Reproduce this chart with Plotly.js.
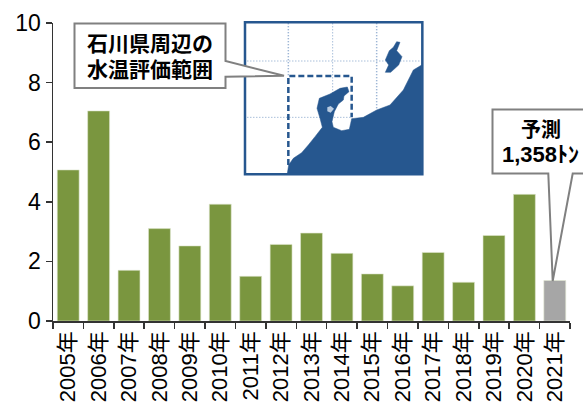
<!DOCTYPE html>
<html><head><meta charset="utf-8">
<script src="https://cdn.plot.ly/plotly-3.0.1.min.js"></script>
<style>html,body{margin:0;padding:0;background:#fff}</style></head>
<body><div id="chart" style="width:583px;height:405px"></div>
<script>
const years = ["2005年","2006年","2007年","2008年","2009年","2010年","2011年","2012年","2013年","2014年","2015年","2016年","2017年","2018年","2019年","2020年","2021年"];
const catch1000t = [5.07,7.05,1.7,3.1,2.52,3.92,1.5,2.57,2.95,2.27,1.58,1.18,2.3,1.3,2.87,4.25,1.358];
const barColors = years.map((y,i)=> i===years.length-1 ? "#a6a6a6" : "#7a963f");

const ML=53, MR=13, MT=23, MB=84, W=583, H=405;
const px = x => (x-ML)/(W-ML-MR);
const py = y => 1-(y-MT)/(H-MT-MB);
const zx = x => 240+x/3, zy = y => 10+y/3;          // zoomed map sketch -> page
const path = (pts,close) => pts.map((p,i)=>(i?"L":"M")+px(p[0]).toFixed(5)+" "+py(p[1]).toFixed(5)).join(" ")+(close?" Z":"");
const zpath = (pts,close) => path(pts.map(p=>[zx(p[0]),zy(p[1])]),close);
const shp = (d,o) => Object.assign({type:"path",xref:"paper",yref:"paper",path:d,layer:"above"},o);

const MAPBLUE="#26578f", GRID="#7f9fc8", CALL="#808080";
const land=[[142,490],[146,465],[160,445],[185,428],[205,405],[225,380],[247,352],[240,325],[231,295],[238,265],[270,252],[300,235],[322,231],[327,245],[312,258],[310,270],[295,282],[283,305],[276,335],[280,352],[305,362],[328,358],[332,340],[335,326],[370,322],[410,300],[450,285],[490,240],[510,200],[520,180],[545,165],[545,490]];
const sado=[[470,95],[480,97],[470,122],[486,140],[476,165],[452,187],[436,187],[446,165],[436,150],[448,122],[460,112]];
const shapes=[
 shp(zpath([[15,37],[547,37],[547,493],[15,493]],true),{fillcolor:"#fff",line:{width:0}}),
 shp(zpath([[22,153],[540,153]]),{line:{color:GRID,width:1,dash:"1px,2px"}}),
 shp(zpath([[22,322],[335,322]]),{line:{color:GRID,width:1,dash:"1px,2px"}}),
 shp(zpath([[145,40],[145,198]]),{line:{color:GRID,width:1.5,dash:"1px,2px"}}),
 shp(zpath([[278,40],[278,250]]),{line:{color:GRID,width:1,dash:"1px,2px"}}),
 shp(zpath([[410,40],[410,295]]),{line:{color:GRID,width:1.5,dash:"1px,2px"}}),
 shp(zpath(land,true),{fillcolor:MAPBLUE,line:{color:MAPBLUE,width:0.5}}),
 shp(zpath(sado,true),{fillcolor:MAPBLUE,line:{color:MAPBLUE,width:0.5}}),
 shp(zpath([[262,292],[272,288],[282,296],[272,308],[262,304]],true),{fillcolor:"#b9cbe0",line:{width:0}}),
 shp(zpath([[145,465],[145,198],[335,198],[335,322]]),{line:{color:MAPBLUE,width:2.5,dash:"6px,3px"}}),
 shp(zpath([[15,37],[547,37],[547,493],[15,493]],true),{line:{color:MAPBLUE,width:2.5}}),
 shp(path([[74.5,23.5],[225.5,23.5],[225.5,61],[284,75.7],[225.5,76.7],[225.5,88],[74.5,88]],true),{fillcolor:"#fff",line:{color:CALL,width:2}}),
 shp(path([[492.5,109.5],[590,109.5],[590,173.5],[572.7,173.5],[552.7,281],[548.3,173.5],[492.5,173.5]],true),{fillcolor:"#fff",line:{color:CALL,width:2}})
];
const FONT='"Liberation Sans","Noto Sans CJK JP",sans-serif';
const note=(x,y,t,sz)=>({xref:"paper",yref:"paper",x:px(x),y:py(y),text:t,showarrow:false,xanchor:"center",yanchor:"middle",font:{family:FONT,size:sz,color:"#000"}});
const annotations=[
 note(150,44,"<b>石川県周辺の</b>",21),
 note(150,69,"<b>水温評価範囲</b>",21),
 note(541,130,"<b>予測</b>",20),
 note(540,154,"<b>1,358ﾄﾝ</b>",22)
];
Plotly.newPlot("chart",[{type:"bar",x:years,y:catch1000t,marker:{color:barColors,line:{color:"#dfe5cf",width:0.6}},width:0.72}],{
 width:W,height:H,margin:{l:ML,r:MR,t:MT,b:MB,pad:0},paper_bgcolor:"#fff",plot_bgcolor:"#fff",showlegend:false,
 font:{family:FONT,color:"#000"},
 xaxis:{type:"category",tickson:"boundaries",ticks:"outside",ticklen:6,tickwidth:1.5,tickcolor:"#333",showline:true,linecolor:"#333",linewidth:1.5,tickangle:-90,tickfont:{size:22,family:FONT,color:"#000"},showgrid:false,automargin:false},
 yaxis:{range:[0,10],tick0:0,dtick:2,ticks:"outside",ticklen:6,tickwidth:1.5,tickcolor:"#333",showline:true,linecolor:"#333",linewidth:1.5,tickfont:{size:23,family:FONT,color:"#000"},showgrid:false,zeroline:false,automargin:false},
 shapes,annotations
},{displayModeBar:false,staticPlot:true});
</script></body></html>
